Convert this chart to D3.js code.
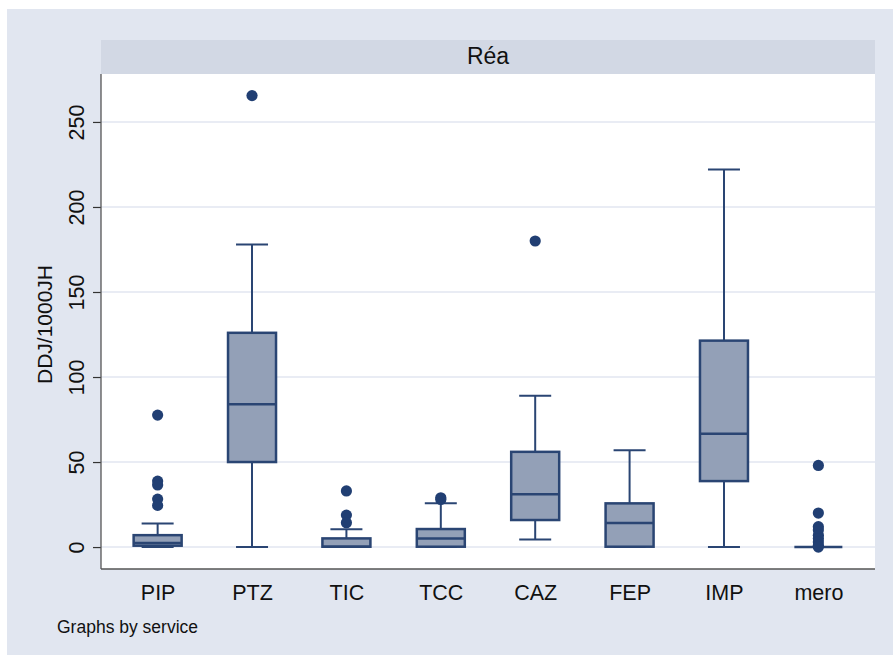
<!DOCTYPE html>
<html>
<head>
<meta charset="utf-8">
<script src="https://cdn.jsdelivr.net/npm/d3@7"></script>
<style>
  body { margin: 0; background: #fff; }
  text { font-family: "Liberation Sans", Arial, sans-serif; fill: #111; }
</style>
</head>
<body>
<div class="canvas"></div>
<script>
// data
const services = ['PIP', 'PTZ', 'TIC', 'TCC', 'CAZ', 'FEP', 'IMP', 'mero']
const q1 = [0.8, 50, 0.2, 0.2, 15.9, 0.2, 38.8, 0]
const medians = [2.4, 84, 0.2, 5.1, 31, 14.2, 66.7, 0]
const q3 = [7, 126, 5.1, 10.6, 56, 25.7, 121.4, 0]
const whiskLow = [0, 0, 0, 0, 4.5, 0, 0, 0]
const whiskHigh = [13.9, 178, 10.5, 25.7, 89, 57, 222, 0]
const outliers = [
    [77.6, 38.8, 36.5, 28.2, 24.5],
    [265.5],
    [33, 18.8, 14.3],
    [29, 28],
    [180],
    [],
    [],
    [48, 20, 12, 10, 7, 5, 3, 1, 0]
]
const yTicks = [0, 50, 100, 150, 200, 250]

const W = 893, H = 655
const svg = d3.select('.canvas')
    .append('svg')
    .attr('width', W)
    .attr('height', H)

// outer graph region
svg.append('rect')
    .attr('x', 7).attr('y', 9)
    .attr('width', W - 7).attr('height', H - 9)
    .attr('fill', '#e1e6f0')

const plot = {left: 101, right: 875, top: 74, bottom: 569}

// strip header
svg.append('rect')
    .attr('x', plot.left).attr('y', 40)
    .attr('width', plot.right - plot.left).attr('height', 34)
    .attr('fill', '#d2d8e4')
svg.append('text')
    .attr('x', (plot.left + plot.right) / 2)
    .attr('y', 64)
    .attr('text-anchor', 'middle')
    .attr('font-size', 23)
    .text('Réa')

// plot area
svg.append('rect')
    .attr('x', plot.left).attr('y', plot.top)
    .attr('width', plot.right - plot.left).attr('height', plot.bottom - plot.top)
    .attr('fill', '#fff')

const y = d3.scaleLinear()
    .domain([-12.9, 278.2])
    .range([plot.bottom, plot.top])

const x = d3.scalePoint()
    .domain(services)
    .range([plot.left, plot.right])
    .padding(0.6)

// grid
svg.append('g')
    .selectAll('line')
    .data(yTicks)
    .join('line')
    .attr('x1', plot.left).attr('x2', plot.right)
    .attr('y1', d => y(d)).attr('y2', d => y(d))
    .attr('stroke', '#e2e6f0')
    .attr('stroke-width', 1.6)

// y axis
const yAxis = d3.axisLeft(y).tickValues(yTicks).tickSize(8).tickPadding(0)
const yAxisGroup = svg.append('g')
    .attr('transform', `translate(${plot.left}, 0)`)
    .call(yAxis)
yAxisGroup.select('.domain').remove()
yAxisGroup.selectAll('.tick line').attr('stroke', '#333').attr('stroke-width', 1.2)
yAxisGroup.selectAll('.tick text')
    .attr('font-size', 21.5)
    .attr('fill', '#111')
    .attr('font-family', '"Liberation Sans", Arial, sans-serif')
    .attr('text-anchor', 'middle')
    .attr('dy', 0)
    .attr('x', 0).attr('y', 0)
    .attr('transform', 'translate(-17, 0) rotate(-90)')

// x axis (labels only)
const xAxis = d3.axisBottom(x).tickSize(0).tickPadding(0)
const xAxisGroup = svg.append('g')
    .attr('transform', `translate(0, ${plot.bottom})`)
    .call(xAxis)
xAxisGroup.select('.domain').remove()
xAxisGroup.selectAll('.tick text')
    .attr('font-size', 21.5)
    .attr('fill', '#111')
    .attr('font-family', '"Liberation Sans", Arial, sans-serif')
    .attr('dy', 0)
    .attr('y', 31)

// axis lines
svg.append('line')
    .attr('x1', plot.left).attr('x2', plot.left)
    .attr('y1', plot.top).attr('y2', plot.bottom)
    .attr('stroke', '#555').attr('stroke-width', 1.3)
svg.append('line')
    .attr('x1', plot.left).attr('x2', plot.right)
    .attr('y1', plot.bottom).attr('y2', plot.bottom)
    .attr('stroke', '#555').attr('stroke-width', 1.3)

// y title
svg.append('text')
    .attr('transform', `translate(52, ${(plot.top + plot.bottom) / 2 + 3}) rotate(-90)`)
    .attr('text-anchor', 'middle')
    .attr('font-size', 21)
    .text('DDJ/1000JH')

// boxes
const boxW = 48, capW = 32
const lineCol = '#2a4573', fillCol = '#93a0b7', dotCol = '#213f73'
const boxes = services.map((s, i) => ({
    s, q1: q1[i], med: medians[i], q3: q3[i], lo: whiskLow[i], hi: whiskHigh[i], out: outliers[i]
}))

const g = svg.append('g')
boxes.forEach(d => {
    const cx = x(d.s)
    // whiskers
    g.append('line')
        .attr('x1', cx).attr('x2', cx)
        .attr('y1', y(d.q3)).attr('y2', y(d.hi))
        .attr('stroke', lineCol).attr('stroke-width', 2)
    g.append('line')
        .attr('x1', cx).attr('x2', cx)
        .attr('y1', y(d.q1)).attr('y2', y(d.lo))
        .attr('stroke', lineCol).attr('stroke-width', 2)
    g.append('line')
        .attr('x1', cx - capW / 2).attr('x2', cx + capW / 2)
        .attr('y1', y(d.hi)).attr('y2', y(d.hi))
        .attr('stroke', lineCol).attr('stroke-width', 2)
    g.append('line')
        .attr('x1', cx - capW / 2).attr('x2', cx + capW / 2)
        .attr('y1', y(d.lo)).attr('y2', y(d.lo))
        .attr('stroke', lineCol).attr('stroke-width', 2)
    // box
    g.append('rect')
        .attr('x', cx - boxW / 2)
        .attr('y', y(d.q3))
        .attr('width', boxW)
        .attr('height', Math.max(0, y(d.q1) - y(d.q3)))
        .attr('fill', fillCol)
        .attr('stroke', lineCol).attr('stroke-width', 2.5)
    g.append('line')
        .attr('x1', cx - boxW / 2).attr('x2', cx + boxW / 2)
        .attr('y1', y(d.med)).attr('y2', y(d.med))
        .attr('stroke', lineCol).attr('stroke-width', 2.5)
    // outside values
    g.selectAll(null)
        .data(d.out)
        .join('circle')
        .attr('cx', cx)
        .attr('cy', v => y(v))
        .attr('r', 5.6)
        .attr('fill', dotCol)
})

// note
svg.append('text')
    .attr('x', 57).attr('y', 633)
    .attr('font-size', 17.5)
    .text('Graphs by service')
</script>
</body>
</html>
